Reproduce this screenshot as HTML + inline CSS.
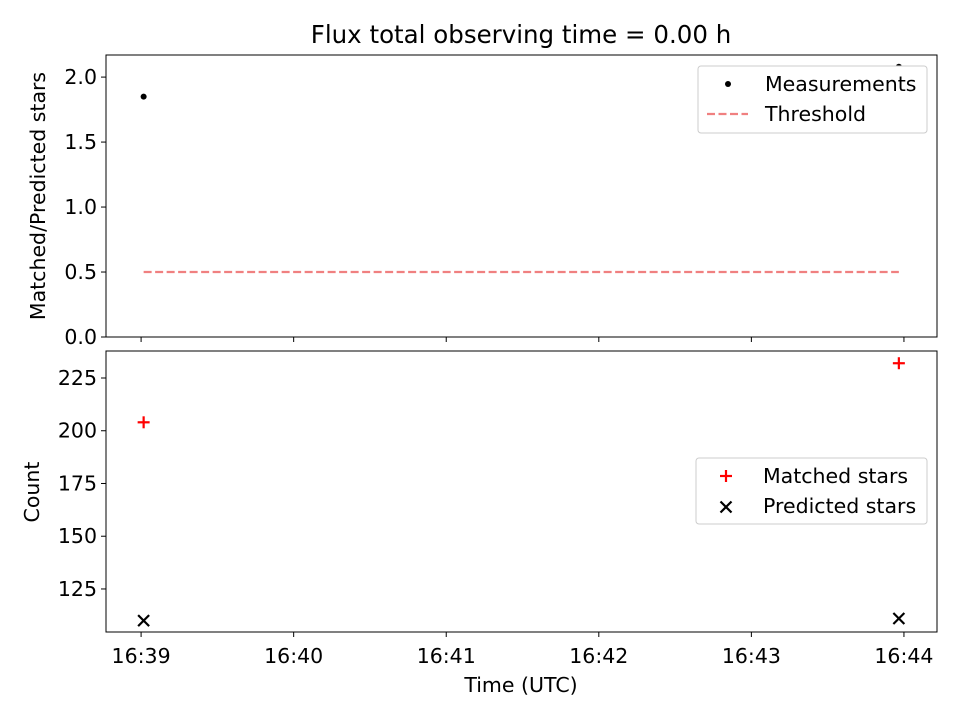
<!DOCTYPE html>
<html><head><meta charset="utf-8"><style>
body{margin:0;background:#fff}
svg text{font-family:"DejaVu Sans","Liberation Sans",sans-serif;fill:#000}
</style></head><body>
<svg id="c" width="960" height="720" xmlns="http://www.w3.org/2000/svg"></svg>
<script>
const timesSec=[1,298];
const ratioValues=[1.85,2.08];
const thresholdValue=0.5;
const matchedValues=[204,232];
const predictedValues=[110,111];
const xTickLabels=["16:39","16:40","16:41","16:42","16:43","16:44"];
const topYTicks=[0.0,0.5,1.0,1.5,2.0];
const botYTicks=[125,150,175,200,225];

const NS="http://www.w3.org/2000/svg";
const svg=document.getElementById('c');
function el(t,a,p){const e=document.createElementNS(NS,t);for(const k in a)e.setAttribute(k,a[k]);(p||svg).appendChild(e);return e;}
const FS=20.5;
const L=106,R=937;
const xmin=-13.8,xmax=313;
const X=s=>L+(s-xmin)/(xmax-xmin)*(R-L);
const T0=55,T1=337,yT=v=>T1-(v-0)/(2.17-0)*(T1-T0);
const B0=351,B1=632,yB=v=>B1-(v-104.6)/(237.8-104.6)*(B1-B0);

let t=el('text',{x:521,y:43,'font-size':24.5,'text-anchor':'middle'});t.textContent='Flux total observing time = 0.00 h';


function frame(y0,y1,name){const r=el('rect',{x:L,y:y0,width:R-L,height:y1-y0,fill:'none',stroke:'#000','stroke-width':1});
}
frame(T0,T1,'top-plot-frame');frame(B0,B1,'bottom-plot-frame');

xTickLabels.forEach((lab,i)=>{const x=X(i*60);
el('line',{x1:x,x2:x,y1:T1,y2:T1+5,stroke:'#000'});
el('line',{x1:x,x2:x,y1:B1,y2:B1+5,stroke:'#000'});
const tx=el('text',{x:x,y:B1+31,'font-size':FS,'text-anchor':'middle'});tx.textContent=lab;
});
topYTicks.forEach(v=>{const y=yT(v);el('line',{x1:L-5,x2:L,y1:y,y2:y,stroke:'#000'});
const tx=el('text',{x:L-9,y:y+7,'font-size':FS,'text-anchor':'end'});tx.textContent=v.toFixed(1);
});
botYTicks.forEach(v=>{const y=yB(v);el('line',{x1:L-5,x2:L,y1:y,y2:y,stroke:'#000'});
const tx=el('text',{x:L-9,y:y+7,'font-size':FS,'text-anchor':'end'});tx.textContent=v;
});

t=el('text',{x:45,y:196,'font-size':FS,'text-anchor':'middle',transform:'rotate(-90 45 196)'});t.textContent='Matched/Predicted stars';

t=el('text',{x:39,y:492,'font-size':FS,'text-anchor':'middle',transform:'rotate(-90 39 492)'});t.textContent='Count';

t=el('text',{x:521,y:692,'font-size':FS,'text-anchor':'middle'});t.textContent='Time (UTC)';


let ln=el('line',{x1:X(timesSec[0]),x2:X(timesSec[timesSec.length-1]),y1:yT(thresholdValue),y2:yT(thresholdValue),stroke:'#f08080','stroke-width':2.2,'stroke-dasharray':'8,3.5'});

ratioValues.forEach((v,i)=>{const c=el('circle',{cx:X(timesSec[i]),cy:yT(v),r:3,fill:'#000'});
});
function plus(x,y,col,name){const g=el('g',{stroke:col,'stroke-width':2.2});
el('line',{x1:x-6,x2:x+6,y1:y,y2:y},g);el('line',{x1:x,x2:x,y1:y-6,y2:y+6},g);
}
function cross(x,y,col,name){const g=el('g',{stroke:col,'stroke-width':2.2});
el('line',{x1:x-5.5,x2:x+5.5,y1:y-5.5,y2:y+5.5},g);el('line',{x1:x-5.5,x2:x+5.5,y1:y+5.5,y2:y-5.5},g);
}
matchedValues.forEach((v,i)=>plus(X(timesSec[i]),yB(v),'#f00','matched-star-point'));
predictedValues.forEach((v,i)=>cross(X(timesSec[i]),yB(v),'#000','predicted-star-point'));

// legends
let lg=el('rect',{x:698,y:66,width:229,height:67,rx:3,fill:'#fff',stroke:'#ccc'});

el('circle',{cx:728,cy:84,r:3,fill:'#000'});
t=el('text',{x:765,y:91,'font-size':FS});t.textContent='Measurements';

el('line',{x1:707,x2:748,y1:114,y2:114,stroke:'#f08080','stroke-width':2.2,'stroke-dasharray':'8,3.5'});
t=el('text',{x:765,y:121,'font-size':FS});t.textContent='Threshold';

lg=el('rect',{x:696,y:458,width:231,height:66,rx:3,fill:'#fff',stroke:'#ccc'});

plus(726,476,'#f00','legend-marker-matched');
t=el('text',{x:763,y:483,'font-size':FS});t.textContent='Matched stars';

cross(726,507,'#000','legend-marker-predicted');
t=el('text',{x:763,y:513,'font-size':FS});t.textContent='Predicted stars';

</script>
</body></html>
